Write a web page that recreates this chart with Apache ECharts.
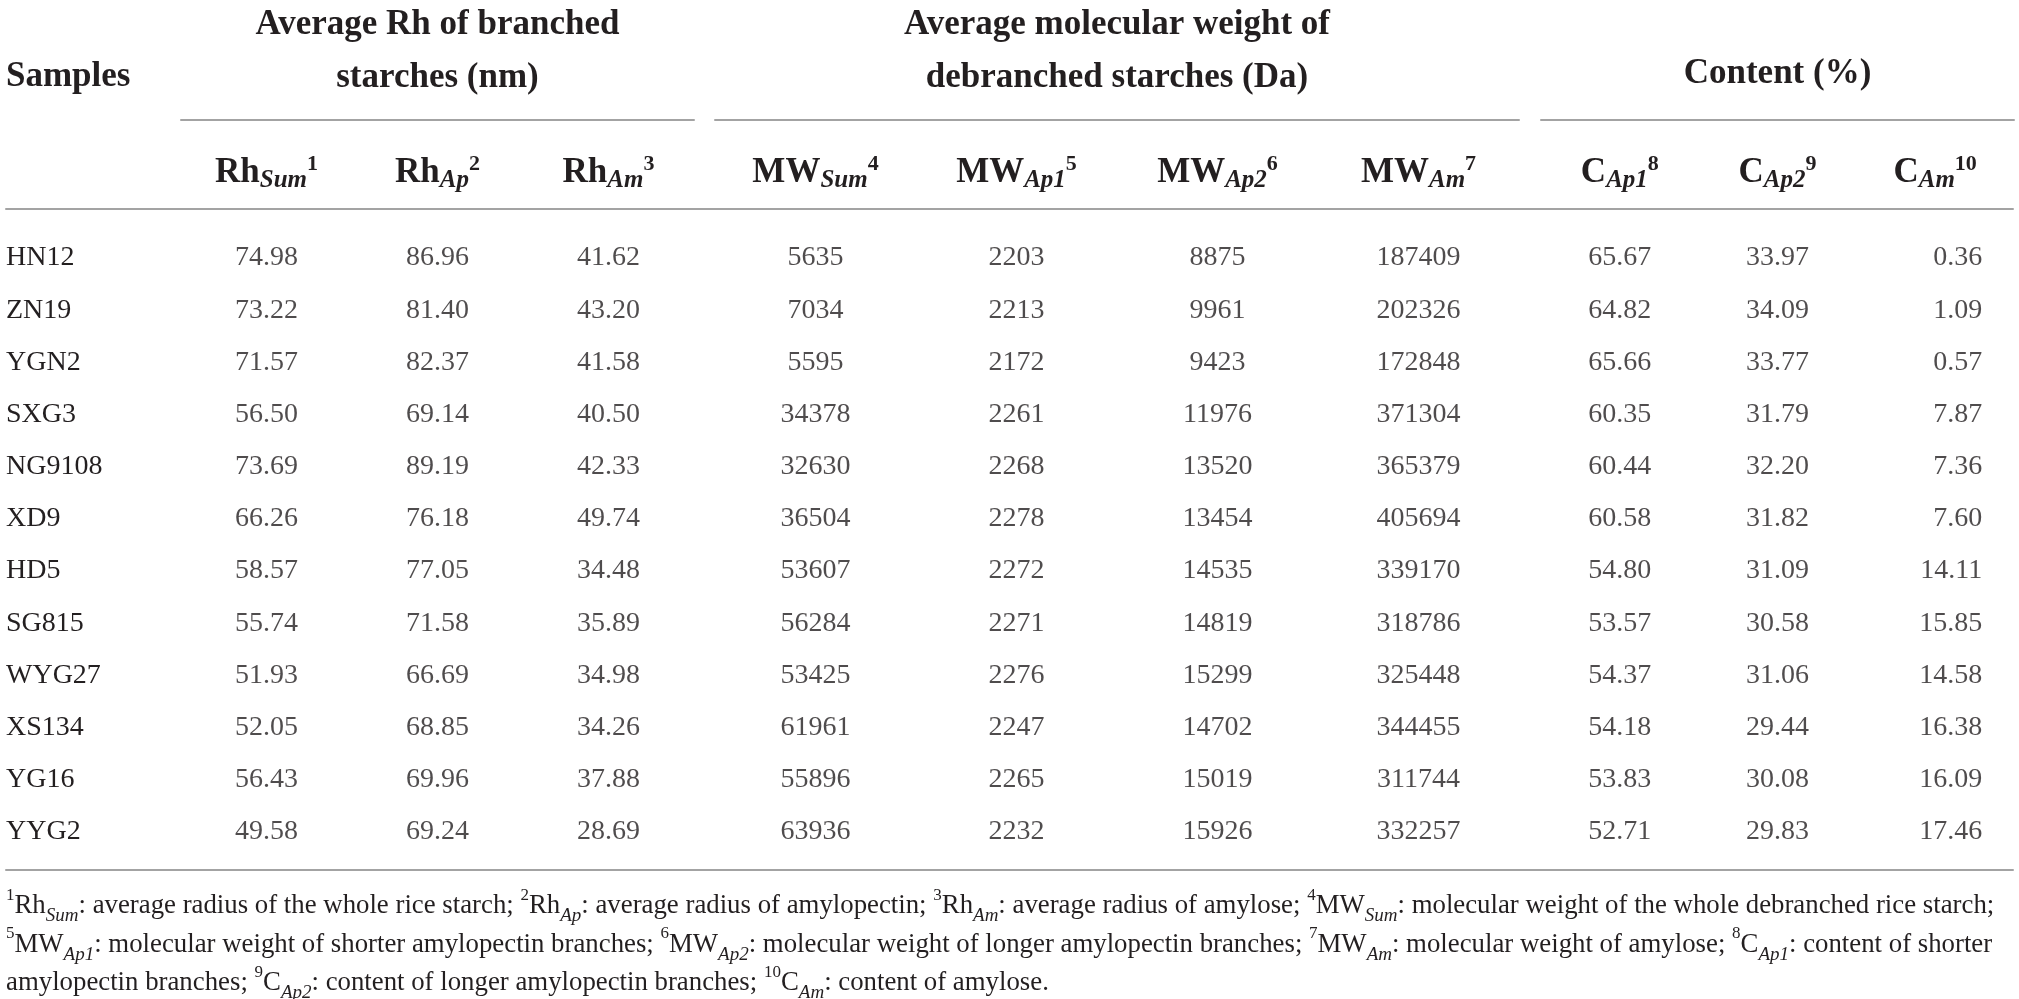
<!DOCTYPE html>
<html>
<head>
<meta charset="utf-8">
<title>Rice starch structure</title>
<script src="https://cdn.jsdelivr.net/npm/echarts@6/dist/echarts.min.js"></script>
<style>
  html, body { margin: 0; padding: 0; background: #fff; }
  #main { width: 2019px; height: 999px; }
</style>
</head>
<body>
<div id="main"></div>
<script>
// table data
const samples = ['HN12', 'ZN19', 'YGN2', 'SXG3', 'NG9108', 'XD9', 'HD5', 'SG815', 'WYG27', 'XS134', 'YG16', 'YYG2'];
const rhSum = [74.98, 73.22, 71.57, 56.50, 73.69, 66.26, 58.57, 55.74, 51.93, 52.05, 56.43, 49.58];
const rhAp = [86.96, 81.40, 82.37, 69.14, 89.19, 76.18, 77.05, 71.58, 66.69, 68.85, 69.96, 69.24];
const rhAm = [41.62, 43.20, 41.58, 40.50, 42.33, 49.74, 34.48, 35.89, 34.98, 34.26, 37.88, 28.69];
const mwSum = [5635, 7034, 5595, 34378, 32630, 36504, 53607, 56284, 53425, 61961, 55896, 63936];
const mwAp1 = [2203, 2213, 2172, 2261, 2268, 2278, 2272, 2271, 2276, 2247, 2265, 2232];
const mwAp2 = [8875, 9961, 9423, 11976, 13520, 13454, 14535, 14819, 15299, 14702, 15019, 15926];
const mwAm = [187409, 202326, 172848, 371304, 365379, 405694, 339170, 318786, 325448, 344455, 311744, 332257];
const cAp1 = [65.67, 64.82, 65.66, 60.35, 60.44, 60.58, 54.80, 53.57, 54.37, 54.18, 53.83, 52.71];
const cAp2 = [33.97, 34.09, 33.77, 31.79, 32.20, 31.82, 31.09, 30.58, 31.06, 29.44, 30.08, 29.83];
const cAm = [0.36, 1.09, 0.57, 7.87, 7.36, 7.60, 14.11, 15.85, 14.58, 16.38, 16.09, 17.46];

// column headers: base, subscript, footnote number
const columns = [
  { key: 'RhSum', base: 'Rh', sub: 'Sum', note: '1', values: rhSum, digits: 2 },
  { key: 'RhAp', base: 'Rh', sub: 'Ap', note: '2', values: rhAp, digits: 2 },
  { key: 'RhAm', base: 'Rh', sub: 'Am', note: '3', values: rhAm, digits: 2 },
  { key: 'MWSum', base: 'MW', sub: 'Sum', note: '4', values: mwSum, digits: 0 },
  { key: 'MWAp1', base: 'MW', sub: 'Ap1', note: '5', values: mwAp1, digits: 0 },
  { key: 'MWAp2', base: 'MW', sub: 'Ap2', note: '6', values: mwAp2, digits: 0 },
  { key: 'MWAm', base: 'MW', sub: 'Am', note: '7', values: mwAm, digits: 0 },
  { key: 'CAp1', base: 'C', sub: 'Ap1', note: '8', values: cAp1, digits: 2 },
  { key: 'CAp2', base: 'C', sub: 'Ap2', note: '9', values: cAp2, digits: 2 },
  { key: 'CAm', base: 'C', sub: 'Am', note: '10', values: cAm, digits: 2 }
];
const groupTitles = ['Average Rh of branched\nstarches (nm)', 'Average molecular weight of\ndebranched starches (Da)', 'Content (%)'];
const groupColumns = [[0, 1, 2], [3, 4, 5, 6], [7, 8, 9]];

const footnotes = [
  '{sp|1}Rh{si|Sum}: average radius of the whole rice starch; {sp|2}Rh{si|Ap}: average radius of amylopectin; {sp|3}Rh{si|Am}: average radius of amylose; {sp|4}MW{si|Sum}: molecular weight of the whole debranched rice starch;',
  '{sp|5}MW{si|Ap1}: molecular weight of shorter amylopectin branches; {sp|6}MW{si|Ap2}: molecular weight of longer amylopectin branches; {sp|7}MW{si|Am}: molecular weight of amylose; {sp|8}C{si|Ap1}: content of shorter',
  'amylopectin branches; {sp|9}C{si|Ap2}: content of longer amylopectin branches; {sp|10}C{si|Am}: content of amylose.'
];

// layout
const FONT = 'Liberation Serif';
const INK = '#231f20';
const RULE = { color: '#a3a3a3', width: 2 };
const TOP = 232;
const HEIGHT = 626;
const HEAD_RULE = 209;   // rule under the column heads
const GROUP_RULE = 120;  // rules under the group titles
const BOTTOM_RULE = 870; // rule under the last row
const groupBoxes = [
  { left: 181, width: 513, nameGap: 16 },
  { left: 715, width: 804, nameGap: 16 },
  { left: 1541, width: 473, nameGap: 20 }
];
const rightAligned = ['CAm'];

const headRich = {
  b: { fontFamily: FONT, fontSize: 35, fontWeight: 'bold', color: INK, lineHeight: 40 },
  s: { fontFamily: FONT, fontSize: 25, fontWeight: 'bold', fontStyle: 'italic', color: INK, lineHeight: 26, verticalAlign: 'bottom' },
  p: { fontFamily: FONT, fontSize: 22, fontWeight: 'bold', color: INK, lineHeight: 24, verticalAlign: 'top' }
};
const noteRich = {
  sp: { fontFamily: FONT, fontSize: 17, color: INK, lineHeight: 22, verticalAlign: 'top' },
  si: { fontFamily: FONT, fontSize: 19, fontStyle: 'italic', color: INK, lineHeight: 28, verticalAlign: 'bottom' }
};

const hidden = {
  axisTick: { show: false },
  axisLabel: { show: false },
  splitLine: { show: false }
};

const grid = [{ left: 6, right: 6, top: TOP, height: HEIGHT, outerBoundsMode: 'none' }];
const xAxis = [
  { gridIndex: 0, type: 'value', min: 0, max: 1, position: 'top', offset: TOP - HEAD_RULE,
    axisLine: { show: true, lineStyle: RULE }, ...hidden },
  { gridIndex: 0, type: 'value', min: 0, max: 1, position: 'bottom', offset: BOTTOM_RULE - TOP - HEIGHT,
    axisLine: { show: true, lineStyle: RULE }, ...hidden }
];
const yAxis = [{
  gridIndex: 0,
  type: 'category',
  data: samples,
  inverse: true,
  axisLine: { show: false },
  axisTick: { show: false },
  axisLabel: { align: 'left', margin: 0, fontFamily: FONT, fontSize: 28, color: INK }
}];
const series = [];

groupColumns.forEach((cols, gi) => {
  const box = groupBoxes[gi];
  const keys = cols.map(c => columns[c].key);
  grid.push({ left: box.left, width: box.width, top: TOP, height: HEIGHT, outerBoundsMode: 'none' });

  // group rule with group title
  xAxis.push({
    gridIndex: gi + 1,
    type: 'category',
    data: keys,
    position: 'top',
    offset: TOP - GROUP_RULE,
    axisLine: { show: true, lineStyle: RULE },
    ...hidden,
    name: groupTitles[gi],
    nameLocation: 'middle',
    nameGap: box.nameGap,
    nameTextStyle: { fontFamily: FONT, fontSize: 35, fontWeight: 'bold', color: INK, lineHeight: 53 }
  });
  // column heads
  xAxis.push({
    gridIndex: gi + 1,
    type: 'category',
    data: keys,
    position: 'top',
    axisLine: { show: false },
    axisTick: { show: false },
    splitLine: { show: false },
    axisLabel: {
      interval: 0,
      margin: 39,
      formatter(k) {
        const c = columns.find(col => col.key === k);
        return `{b|${c.base}}{s|${c.sub}}{p|${c.note}}`;
      },
      rich: headRich
    }
  });
  yAxis.push({ gridIndex: gi + 1, type: 'category', data: samples, inverse: true, show: false });

  cols.forEach(ci => {
    const col = columns[ci];
    const right = rightAligned.includes(col.key);
    series.push({
      name: col.key,
      type: 'scatter',
      xAxisIndex: xAxis.length - 1,
      yAxisIndex: gi + 1,
      symbolSize: 1,
      itemStyle: { color: 'rgba(0,0,0,0)' },
      silent: true,
      data: col.values.map((v, i) => [col.key, samples[i], v]),
      label: {
        show: true,
        position: 'inside',
        align: right ? 'right' : 'center',
        offset: right ? [47, 0] : [0, 0],
        fontFamily: FONT,
        fontSize: 28,
        color: INK,
        formatter: p => p.value[2].toFixed(col.digits)
      }
    });
  });
});

const option = {
  animation: false,
  backgroundColor: '#fff',
  title: [
    {
      text: 'Samples', left: 6, top: 57, padding: 0,
      textStyle: { fontFamily: FONT, fontSize: 35, fontWeight: 'bold', color: INK, lineHeight: 40 }
    },
    {
      text: footnotes.join('\n'), left: 6, top: 887, padding: 0,
      textStyle: { fontFamily: FONT, fontSize: 26.8, fontWeight: 'normal', color: INK, lineHeight: 38.5, rich: noteRich }
    }
  ],
  grid,
  xAxis,
  yAxis,
  series
};

const myChart = echarts.init(document.getElementById('main'));
myChart.setOption(option);
</script>
</body>
</html>
